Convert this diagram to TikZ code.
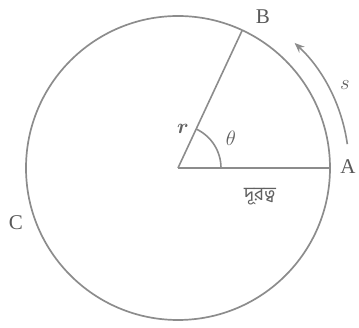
\documentclass[tikz,border=0pt]{standalone}
\usepackage{amsmath}
\usepackage{amssymb}
\usepackage{fontspec}
\setmainfont{Liberation Serif}
\newfontfamily\bengalifont[Script=Bengali]{Hind Siliguri}
\usetikzlibrary{arrows.meta, calc}
\tikzset{
  rimline/.style={line width=1.7pt, draw=gray!90},
  radline/.style={line width=1.6pt, draw=gray!90},
  arcarrow/.style={-{Stealth[length=10pt,width=8pt]}, line width=1.6pt, draw=gray!90},
  ptlabel/.style={font=\fontsize{21}{23}\selectfont, text=gray!70!black, inner sep=0pt},
  mathlabel/.style={font=\fontsize{21}{23}\selectfont, text=gray!75!black, inner sep=0pt},
}

\begin{document}
\begin{tikzpicture}[x=1pt,y=1pt]
  \useasboundingbox (0,0) rectangle (359,328);
  % centre and points on the rim
  \coordinate (O) at (178,160);
  \coordinate (A) at ($(O)+(0:152)$);
  \coordinate (B) at ($(O)+(65:152)$);
  \coordinate (s0) at ($(O)+(8:171)$);

  \draw[rimline] (O) circle (152);
  \draw[radline] (O) -- (A);
  \draw[radline] (O) -- (B);
  \draw[radline] ($(O)+(0:43)$) arc[start angle=0, end angle=65, radius=43];
  \draw[arcarrow] (s0) arc[start angle=8, end angle=47, radius=171];

  \node[ptlabel] (la) at (348,161) {A};
  \node[ptlabel] (lb) at (263,311) {B};
  \node[ptlabel] (lc) at (16,105) {C};
  \node[mathlabel] (ls) at (345,243) {$s$};
  \node[mathlabel] (lt) at (231,190) {$\theta$};
  \node[mathlabel] (lr) at (183,199) {$\boldsymbol{r}$};
  \node[font=\bengalifont\fontsize{19}{21}\selectfont, text=gray!75!black, inner sep=0pt]
    (ld) at (260,131) {দূরত্ব};
\end{tikzpicture}
\end{document}
